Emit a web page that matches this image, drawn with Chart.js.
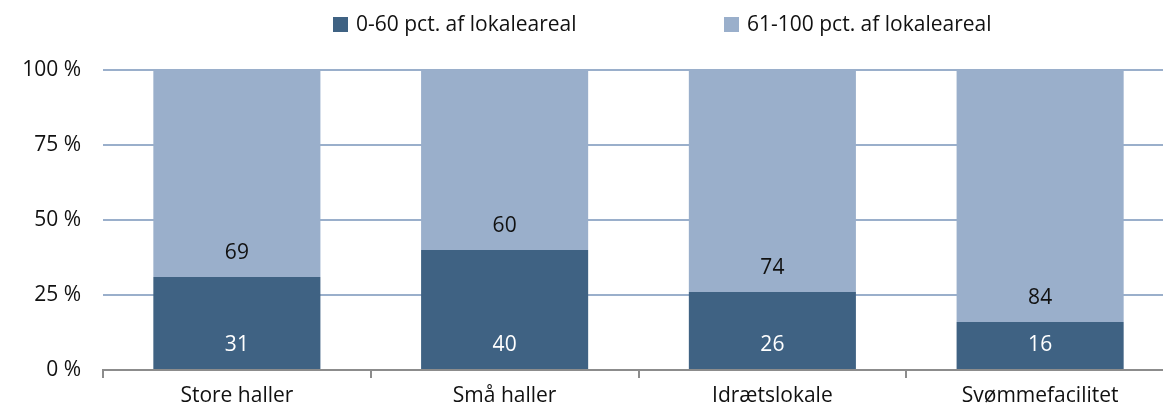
<!DOCTYPE html>
<html lang="da">
<head>
  <meta charset="UTF-8">
  <title>Lokaleareal</title>
  <style>
    html, body { margin: 0; padding: 0; background: #fff; overflow: hidden; }
    /* plot area runs a little past the right edge, as in the original */
    .chart__container { width: 1174px; height: 410px; }
  </style>
</head>
<body>
  <div class="chart__container">
    <canvas id="barChart"></canvas>
  </div>

  <script src="https://cdn.jsdelivr.net/npm/chart.js"></script>
  <script>
    // Data
    const categories = ['Store haller', 'Små haller', 'Idrætslokale', 'Svømmefacilitet'];
    const seriesNames = ['0-60 pct. af lokaleareal', '61-100 pct. af lokaleareal'];
    const lowShare = [31, 40, 26, 16];
    const highShare = [69, 60, 74, 84];
    const yTicks = [0, 25, 50, 75, 100];

    const darkBlue = '#3f6283';
    const lightBlue = '#9aafcb';
    const textColor = '#111111';
    const fontFamily = '"Open Sans", "DejaVu Sans", sans-serif';
    const fontSize = 21;

    // value labels, placed a fixed distance above each segment's base
    const segmentLabels = {
      id: 'segmentLabels',
      afterDatasetsDraw(chart) {
        const ctx = chart.ctx;
        ctx.save();
        ctx.font = fontSize + 'px ' + fontFamily;
        ctx.textAlign = 'center';
        ctx.textBaseline = 'middle';
        chart.data.datasets.forEach((ds, i) => {
          const meta = chart.getDatasetMeta(i);
          ctx.fillStyle = i === 0 ? '#ffffff' : textColor;
          meta.data.forEach((bar, j) => {
            ctx.fillText(String(ds.data[j]), bar.x, bar.base - 24);
          });
        });
        ctx.restore();
      }
    };

    // legend row at the top
    const legendRow = {
      id: 'legendRow',
      afterDraw(chart) {
        const ctx = chart.ctx;
        const starts = [333, 724];
        ctx.save();
        ctx.font = fontSize + 'px ' + fontFamily;
        ctx.textBaseline = 'middle';
        ctx.textAlign = 'left';
        chart.data.datasets.forEach((ds, i) => {
          ctx.fillStyle = ds.backgroundColor;
          ctx.fillRect(starts[i], 17, 15, 15);
          ctx.fillStyle = textColor;
          ctx.fillText(ds.label, starts[i] + 23, 25);
        });
        ctx.restore();
      }
    };

    const data = {
      labels: categories,
      datasets: [{
        label: seriesNames[0],
        data: lowShare,
        backgroundColor: darkBlue,
        barPercentage: 0.624,
        categoryPercentage: 1
      }, {
        label: seriesNames[1],
        data: highShare,
        backgroundColor: lightBlue,
        barPercentage: 0.624,
        categoryPercentage: 1
      }]
    };

    const config = {
      type: 'bar',
      data: data,
      plugins: [segmentLabels, legendRow],
      options: {
        responsive: true,
        maintainAspectRatio: false,
        animation: false,
        layout: {
          padding: { top: 70, right: 0, bottom: 0, left: 0 }
        },
        plugins: {
          legend: { display: false },
          tooltip: { enabled: false }
        },
        scales: {
          x: {
            stacked: true,
            afterFit: (scale) => { scale.height = 40; },
            border: { color: '#8c8c8c', width: 2 },
            grid: {
              drawOnChartArea: false,
              drawTicks: true,
              tickLength: 8,
              color: '#8c8c8c',
              lineWidth: 2
            },
            ticks: {
              color: textColor,
              padding: 5,
              font: { family: fontFamily, size: fontSize }
            }
          },
          y: {
            stacked: true,
            min: 0,
            max: 100,
            afterFit: (scale) => { scale.width = 103; },
            afterBuildTicks: (scale) => {
              scale.ticks = yTicks.map(v => ({ value: v }));
            },
            border: { display: false },
            grid: {
              drawTicks: false,
              lineWidth: 2,
              color: (c) => c.tick && c.tick.value === 0 ? 'rgba(0,0,0,0)' : lightBlue
            },
            ticks: {
              color: textColor,
              padding: 22,
              font: { family: fontFamily, size: fontSize },
              callback: (v) => v + ' %'
            }
          }
        }
      }
    };

    const barChart = new Chart(
      document.getElementById('barChart'),
      config
    );
  </script>
</body>
</html>
